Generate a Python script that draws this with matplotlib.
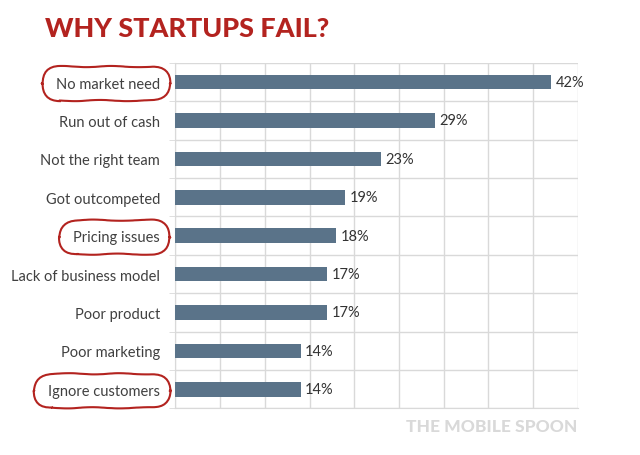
import numpy as np
import matplotlib
matplotlib.use("Agg")
import matplotlib.pyplot as plt
from matplotlib.patches import FancyBboxPatch

reasons = ["No market need", "Run out of cash", "Not the right team", "Got outcompeted",
           "Pricing issues", "Lack of business model", "Poor product", "Poor marketing",
           "Ignore customers"]
percent = [42, 29, 23, 19, 18, 17, 17, 14, 14]
circled = ["No market need", "Pricing issues", "Ignore customers"]

plt.rcParams["font.family"] = ["Lato", "DejaVu Sans"]

W, H = 640, 456
fig = plt.figure(figsize=(6.4, 4.56), dpi=100)
ax = fig.add_axes([0.274, 0.102, 0.629, 0.758])

y = np.arange(len(reasons))
ax.barh(y, percent, height=0.38, color="#5a7389", zorder=3)
for yi, v in zip(y, percent):
    ax.text(v + 0.5, yi, f"{v}%", va="center", ha="left", fontsize=10.5, color="#333333")

ax.set_xlim(0, 45)
ax.set_ylim(len(reasons) - 0.5, -0.5)
ax.set_xticks(np.arange(0, 46, 5))
ax.set_xticklabels([])
ax.tick_params(axis="x", length=0)
ax.set_yticks(y)
ax.set_yticklabels(reasons, fontsize=10.5, color="#404040")
ax.set_yticks(np.arange(-0.5, len(reasons), 1), minor=True)
ax.tick_params(axis="y", which="major", length=0, pad=11)
ax.tick_params(axis="y", which="minor", length=4, color="#d9d9d9")
ax.grid(axis="x", which="major", color="#d9d9d9", lw=1, zorder=0)
ax.grid(axis="y", which="minor", color="#d9d9d9", lw=1, zorder=0)
for s in ["top", "right"]:
    ax.spines[s].set_visible(False)
for s in ["left", "bottom"]:
    ax.spines[s].set_color("#d9d9d9")

title = fig.text(45 / W, 1 - 37 / H, "WHY STARTUPS FAIL?", fontsize=26, fontweight="black",
                 color="#b3231f", ha="left", va="baseline")
fig.text(577 / W, 1 - 432 / H, "THE MOBILE SPOON", fontsize=12.5, fontweight="black",
         color="#d9d9d9", ha="right", va="baseline")

fig.canvas.draw()
# fit the title to roughly the width it has in the reference
tw = title.get_window_extent().width
title.set_fontsize(26 * 285 / tw)

# hand-drawn ovals round the highlighted reasons (pixel units, then figure fraction)
for lab in ax.get_yticklabels():
    if lab.get_text() in circled:
        bb = lab.get_window_extent()
        cy = (bb.y0 + bb.y1) / 2
        x0, x1 = bb.x0 - 14, 170
        box = FancyBboxPatch((x0 / W, (cy - 17) / H), (x1 - x0) / W, 34 / H,
                             boxstyle="round,pad=0,rounding_size=0.028",
                             transform=fig.transFigure, fill=False,
                             ec="#b3231f", lw=1.5, mutation_aspect=W / H)
        box.set_sketch_params(scale=0.6, length=60, randomness=2)
        fig.patches.append(box)

fig.savefig("out.png", dpi=100)
